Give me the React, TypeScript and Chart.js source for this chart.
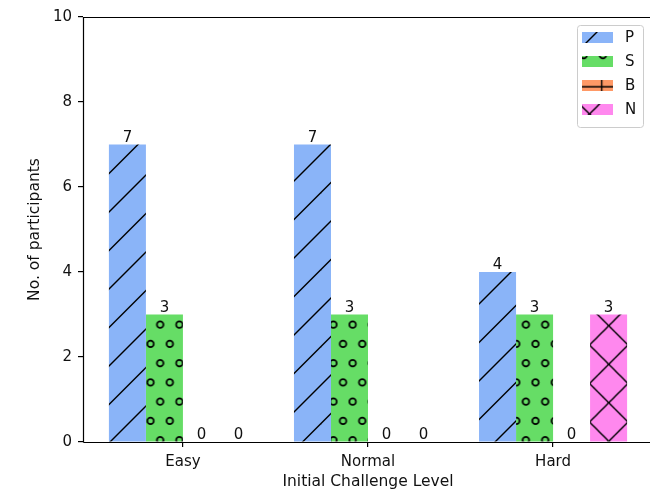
import { useEffect, useRef } from 'react';
import { Chart, registerables } from 'chart.js';

Chart.register(...registerables);

const categories = ['Easy', 'Normal', 'Hard'];
const seriesLabels = ['P', 'S', 'B', 'N'];
const pValues = [7, 7, 4];
const sValues = [3, 3, 3];
const bValues = [0, 0, 0];
const nValues = [0, 0, 3];
const yTicks = [0, 2, 4, 6, 8, 10];

const COLORS = ['#8ab4f8', '#66dd66', '#ff9966', '#ff88ee'];
const HATCHES = ['/', 'o', '+', 'x'];
const OFFSETS: [number, number][] = [[13, 0], [-3.5, 7], [24.2, 9.7], [12, -1.5]];
const FONT = "'DejaVu Sans', sans-serif";
const TEXT = '#111111';
const FS = 15;
const FS_TITLE = 15.5;
const T = 38.5;

function makePattern(ctx: CanvasRenderingContext2D, color: string, kind: string, dx: number, dy: number) {
  const S = 77;
  const c = document.createElement('canvas');
  c.width = S;
  c.height = S;
  const g = c.getContext('2d')!;
  g.fillStyle = color;
  g.fillRect(0, 0, S, S);
  g.strokeStyle = '#000';
  g.lineWidth = 1.4;
  if (kind === '/' || kind === 'x') {
    for (let k = -3; k <= 6; k++) {
      const c0 = k * T;
      g.beginPath();
      g.moveTo(c0 - S - 5, S + 5);
      g.lineTo(c0 + 5, -5);
      g.stroke();
    }
  }
  if (kind === 'x') {
    for (let k = -3; k <= 6; k++) {
      const c0 = k * T;
      g.beginPath();
      g.moveTo(c0 - 5, -5);
      g.lineTo(c0 + S + 5, S + 5);
      g.stroke();
    }
  }
  if (kind === '+') {
    for (let k = 0; k <= 2; k++) {
      g.beginPath();
      g.moveTo(k * T, -1);
      g.lineTo(k * T, S + 1);
      g.stroke();
      g.beginPath();
      g.moveTo(-1, k * T);
      g.lineTo(S + 1, k * T);
      g.stroke();
    }
  }
  if (kind === 'o') {
    g.lineWidth = 1.7;
    for (let r = -1; r <= 4; r++) {
      const y = T / 4 + (r * T) / 2;
      const xo = r % 2 === 0 ? T / 4 : 0;
      for (let j = -1; j <= 5; j++) {
        const x = xo + (j * T) / 2;
        g.beginPath();
        g.arc(x, y, 3.3, 0, Math.PI * 2);
        g.stroke();
      }
    }
  }
  const p = ctx.createPattern(c, 'repeat')!;
  p.setTransform(new DOMMatrix().translate(dx, dy));
  return p;
}

export default function App() {
  const ref = useRef<HTMLCanvasElement | null>(null);

  useEffect(() => {
    const canvas = ref.current!;
    const ctx = canvas.getContext('2d')!;
    const patterns = COLORS.map((col, i) => makePattern(ctx, col, HATCHES[i], OFFSETS[i][0], OFFSETS[i][1]));
    const allValues = [pValues, sValues, bValues, nValues];

    const framePlugin = {
      id: 'frame',
      afterDatasetsDraw(chart: any) {
        const { ctx: c, chartArea: a } = chart;
        c.save();
        // value labels
        c.font = `${FS}px ${FONT}`;
        c.fillStyle = TEXT;
        c.textAlign = 'center';
        c.textBaseline = 'alphabetic';
        chart.data.datasets.forEach((ds: any, i: number) => {
          const meta = chart.getDatasetMeta(i);
          meta.data.forEach((el: any, j: number) => {
            const v = ds.data[j].y;
            c.fillText(String(v), el.x, el.y - 3);
          });
        });
        // spines
        c.strokeStyle = '#000';
        c.lineWidth = 1.2;
        const l = Math.round(a.left) + 0.5;
        const t = Math.round(a.top) + 0.5;
        const b = Math.round(a.bottom) + 0.5;
        const r = Math.round(a.right) + 0.5;
        c.beginPath();
        c.moveTo(l, b);
        c.lineTo(l, t);
        c.lineTo(r, t);
        c.lineTo(r, b);
        c.lineTo(l, b);
        c.stroke();
        // legend
        const bx = a.right - 76;
        const by = a.top + 8;
        const bw = 66;
        const bh = 102;
        c.beginPath();
        c.roundRect(bx + 0.5, by + 0.5, bw, bh, 3);
        c.fillStyle = 'rgba(255,255,255,0.8)';
        c.fill();
        c.strokeStyle = '#cccccc';
        c.lineWidth = 1;
        c.stroke();
        seriesLabels.forEach((lab, i) => {
          const py = by + 7 + i * 24;
          c.fillStyle = patterns[i];
          c.fillRect(bx + 5, py, 31, 11);
          c.fillStyle = TEXT;
          c.textAlign = 'left';
          c.textBaseline = 'middle';
          c.font = `${FS}px ${FONT}`;
          c.fillText(lab, bx + 48, py + 6);
        });
        c.restore();
      },
    };

    const chart = new Chart(canvas, {
      type: 'bar',
      data: {
        datasets: seriesLabels.map((lab, i) => ({
          label: lab,
          data: allValues[i].map((v, j) => ({ x: j, y: v })),
          backgroundColor: patterns[i],
          borderWidth: 0,
          categoryPercentage: 0.8,
          barPercentage: 1.0,
        })),
      },
      options: {
        responsive: false,
        animation: false,
        devicePixelRatio: 1,
        layout: { padding: { top: 17, right: 27, left: 0, bottom: 0 } },
        plugins: { legend: { display: false }, tooltip: { enabled: false } },
        scales: {
          x: {
            type: 'linear',
            offset: false,
            min: -0.54,
            max: 2.54,
            afterBuildTicks: (s: any) => {
              s.ticks = categories.map((_, i) => ({ value: i }));
            },
            afterFit: (s: any) => {
              s.height = 49;
            },
            ticks: {
              callback: (v: any) => categories[v as number] ?? '',
              font: { family: FONT, size: FS },
              color: TEXT,
              padding: 6,
              autoSkip: false,
              maxRotation: 0,
            },
            grid: { offset: false, drawOnChartArea: false, tickLength: 5, color: '#000', lineWidth: 1.2 },
            border: { display: false },
            title: {
              display: true,
              text: 'Initial Challenge Level',
              font: { family: FONT, size: FS_TITLE },
              color: TEXT,
              padding: { top: 0, bottom: 0 },
            },
          },
          y: {
            min: 0,
            max: 10,
            afterBuildTicks: (s: any) => {
              s.ticks = yTicks.map((v) => ({ value: v }));
            },
            afterFit: (s: any) => {
              s.width = 83;
            },
            ticks: {
              font: { family: FONT, size: FS },
              color: TEXT,
              padding: 6,
            },
            grid: { drawOnChartArea: false, tickLength: 5, color: '#000', lineWidth: 1.2 },
            border: { display: false },
            title: {
              display: true,
              text: 'No. of participants',
              font: { family: FONT, size: FS_TITLE },
              color: TEXT,
              padding: { top: 26, bottom: 0 },
            },
          },
        },
      },
      plugins: [framePlugin],
    } as any);
    return () => chart.destroy();
  }, []);

  return (
    <div style={{ position: 'absolute', left: 0, top: 0, width: 650, height: 491, overflow: 'hidden', background: '#fff' }}>
      <canvas ref={ref} width={680} height={491} style={{ display: 'block' }} />
    </div>
  );
}
